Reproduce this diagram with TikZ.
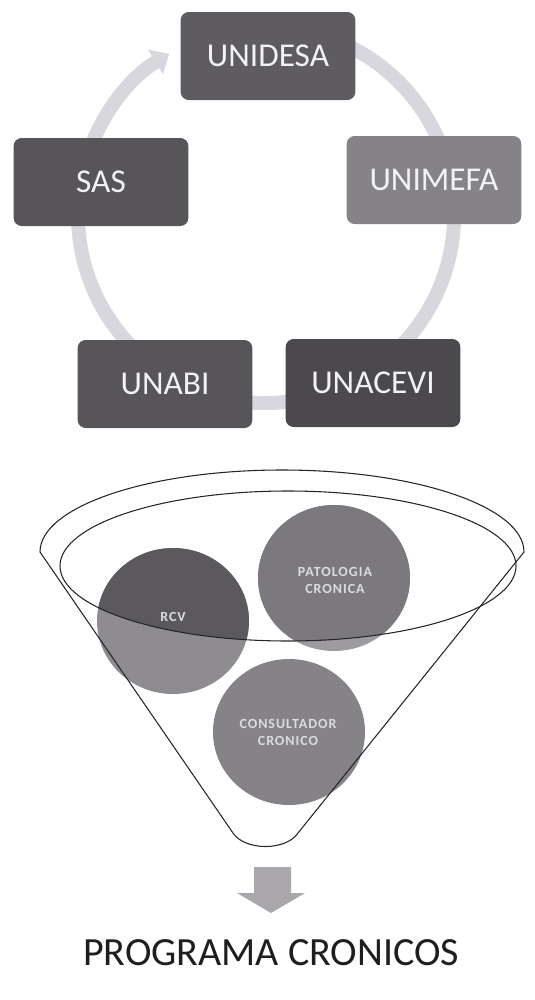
\documentclass[tikz,border=0pt]{standalone}
\usepackage{fontspec}
\setmainfont{Carlito}
\usetikzlibrary{arrows.meta,shapes.geometric}
\definecolor{ringc}{HTML}{D8D7DE}
\definecolor{boxa}{HTML}{5E5B61}
\definecolor{boxb}{HTML}{57545A}
\definecolor{boxc}{HTML}{858288}
\definecolor{boxd}{HTML}{4B484E}
\definecolor{boxtext}{HTML}{F2F2F2}
\definecolor{rcvlight}{HTML}{8F8C91}
\definecolor{rcvdark}{HTML}{5B585E}
\definecolor{patlight}{HTML}{9D9AA0}
\definecolor{patdark}{HTML}{7B787E}
\definecolor{conc}{HTML}{858288}
\definecolor{circtext}{HTML}{DCDCDC}
\definecolor{arrowc}{HTML}{A9A7AB}
\definecolor{titlec}{HTML}{1E1E1E}
\begin{document}
\begin{tikzpicture}[x=0.75pt,y=-0.75pt,
  unitbox/.style={rectangle, rounded corners=6pt, minimum width=131pt, minimum height=66pt,
    text=boxtext, font=\fontsize{25}{28}\selectfont, inner sep=0pt},
  blob/.style={ellipse, minimum width=114pt, minimum height=109.5pt, inner sep=0pt},
  blobtext/.style={text=circtext, align=center, font=\fontsize{10.5}{12.8}\selectfont\bfseries\addfontfeature{LetterSpace=7}},
  ringline/.style={draw=ringc, line width=10.5pt},
  outline/.style={draw=black!85, line width=0.8pt}
]
\useasboundingbox (0,0) rectangle (535,1000);

% ---------- cycle ----------
\coordinate (c) at (266,215);
\draw[ringline] (c) ++(100:141pt) arc[start angle=100, end angle=-200, radius=141pt];
\draw[ringline, -{Triangle[width=21pt,length=12pt]}] (c) ++(165:141pt) arc[start angle=165, end angle=121, radius=141pt];

\node[unitbox, fill=boxa] (unidesa) at (268,56) {UNIDESA};
\node[unitbox, fill=boxc] (unimefa) at (434,180) {UNIMEFA};
\node[unitbox, fill=boxd] (unacevi) at (373,383) {UNACEVI};
\node[unitbox, fill=boxb] (unabi) at (165,384) {UNABI};
\node[unitbox, fill=boxb] (sas) at (101,182) {SAS};

% ---------- funnel ----------
\node[blob, fill=rcvlight] (rcv) at (173,621) {};
\node[blob, fill=patlight] (pat) at (334,578) {};
\node[blob, fill=conc] (con) at (289,732) {};
\begin{scope}
  \clip (288,566) ellipse[x radius=171pt, y radius=56.25pt];
  \fill[rcvdark] (173,621) ellipse[x radius=57pt, y radius=54.75pt];
  \fill[patdark] (334,578) ellipse[x radius=57pt, y radius=54.75pt];
\end{scope}
\node[blobtext] (rcvt) at (173,617) {RCV};
\node[blobtext] (patt) at (335,580) {PATOLOGIA\\CRONICA};
\node[blobtext] (cont) at (288,732) {CONSULTADOR\\CRONICO};

\draw[outline] (288,566) ellipse[x radius=171pt, y radius=56.25pt];
\draw[outline, line join=round] (40,552) arc[start angle=180, end angle=0, x radius=181.5pt, y radius=61.5pt]
  -- (298,833) .. controls (286,851) and (245,851) .. (233,833) -- cycle;

% ---------- arrow and result ----------
\fill[arrowc] (254,867) -- (291,867) -- (291,893) -- (305,893) -- (271,913) -- (237,893) -- (254,893) -- cycle;
\node[text=titlec, font=\fontsize{30}{34}\selectfont, inner sep=0pt] (prog) at (271,953) {PROGRAMA CRONICOS};
\end{tikzpicture}
\end{document}
